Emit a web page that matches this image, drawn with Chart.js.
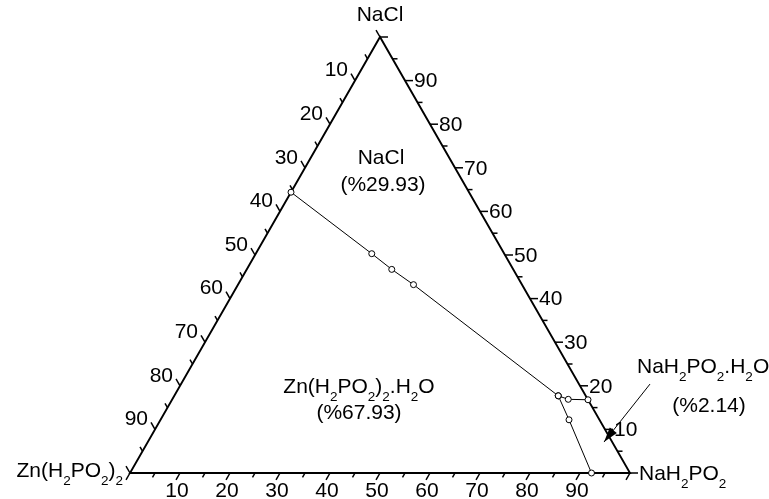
<!DOCTYPE html>
<html>
<head>
<meta charset="utf-8">
<script src="https://cdn.jsdelivr.net/npm/chart.js@4/dist/chart.umd.min.js"></script>
<style>
  html, body { margin: 0; padding: 0; background: #fff; }
  #wrap { width: 769px; height: 499px; }
</style>
</head>
<body>
<div id="wrap"><canvas id="chart" width="769" height="499"></canvas></div>
<script>
/* ── Data (mass %) ───────────────────────────────────── */
// each point: NaH2PO2 %, NaCl %  (Zn(H2PO2)2 is the rest)
const naclCurveNaH2PO2 = [0, 23.2, 29.0, 35.1, 76.8];
const naclCurveNaCl    = [64.4, 50.3, 46.7, 43.2, 17.7];

const hydrateCurveNaH2PO2 = [76.8, 79.2, 83.2];
const hydrateCurveNaCl    = [17.7, 16.9, 16.8];

const znCurveNaH2PO2 = [76.8, 81.7, 92.3];
const znCurveNaCl    = [17.7, 12.2, 0];

const tickValues = [10, 20, 30, 40, 50, 60, 70, 80, 90];
const tickLabels = ['10', '20', '30', '40', '50', '60', '70', '80', '90'];
const minorStep = 5;

// '_x' = subscript x
const vertexNames = ['Zn(H_2PO_2)_2', 'NaH_2PO_2', 'NaCl'];
const fieldNames  = ['NaCl', 'Zn(H_2PO_2)_2.H_2O', 'NaH_2PO_2.H_2O'];
const fieldShares = ['(%29.93)', '(%67.93)', '(%2.14)'];

/* ── Helpers ─────────────────────────────────────────── */
const FONT = '"Liberation Sans", Arial, sans-serif';
const MAIN_FONT = '21px ' + FONT;
const SUB_FONT = '13.5px ' + FONT;

// ternary -> cartesian (x: 0..100 along base, y: NaCl %)
function toXY(b, c) {
  return { x: b + c / 2, y: c };
}

function curve(bs, cs) {
  return bs.map((b, i) => toXY(b, cs[i]));
}

function richParts(str) {
  const parts = [];
  let buf = '';
  for (let i = 0; i < str.length; i++) {
    if (str[i] === '_') {
      if (buf) parts.push([buf, false]);
      buf = '';
      parts.push([str[i + 1], true]);
      i++;
    } else buf += str[i];
  }
  if (buf) parts.push([buf, false]);
  return parts;
}

function drawRich(ctx, str, x, y, align) {
  const parts = richParts(str);
  const widths = parts.map(([t, sub]) => {
    ctx.font = sub ? SUB_FONT : MAIN_FONT;
    return ctx.measureText(t).width;
  });
  const total = widths.reduce((a, w) => a + w, 0);
  let cx = align === 'center' ? x - total / 2 : align === 'right' ? x - total : x;
  ctx.textAlign = 'left';
  ctx.textBaseline = 'middle';
  parts.forEach(([t, sub], i) => {
    ctx.font = sub ? SUB_FONT : MAIN_FONT;
    ctx.fillText(t, cx, sub ? y + 10 : y);
    cx += widths[i];
  });
}

/* ── Triangle frame, ticks, labels ───────────────────── */
const ternaryFrame = {
  id: 'ternaryFrame',
  beforeDatasetsDraw(chart) {
    const { ctx, scales: { x, y } } = chart;
    const P = (b, c) => {
      const q = toXY(b, c);
      return [x.getPixelForValue(q.x), y.getPixelForValue(q.y)];
    };
    const unit = (a, b) => {
      const dx = b[0] - a[0], dy = b[1] - a[1], l = Math.hypot(dx, dy);
      return [dx / l, dy / l];
    };

    const zn = P(0, 0), na = P(100, 0), cl = P(0, 100);

    ctx.save();
    ctx.strokeStyle = '#000';
    ctx.fillStyle = '#000';

    // edges
    ctx.lineWidth = 1.9;
    ctx.lineJoin = 'miter';
    ctx.beginPath();
    ctx.moveTo(zn[0], zn[1]);
    ctx.lineTo(na[0], na[1]);
    ctx.lineTo(cl[0], cl[1]);
    ctx.closePath();
    ctx.stroke();

    const dBottom = unit(cl, zn);   // down-left
    const dLeft = unit(na, cl);     // up-left
    const dRight = unit(zn, na);    // right

    ctx.lineWidth = 1.5;
    for (let v = 0; v <= 100; v += minorStep) {
      const len = v % 10 === 0 ? 8 : 5;
      const pts = [
        [P(v, 0), dBottom],         // NaH2PO2 on base
        [P(0, 100 - v), dLeft],     // Zn(H2PO2)2 on left side
        [P(100 - v, v), dRight]     // NaCl on right side
      ];
      pts.forEach(([p, d]) => {
        ctx.beginPath();
        ctx.moveTo(p[0], p[1]);
        ctx.lineTo(p[0] + d[0] * len, p[1] + d[1] * len);
        ctx.stroke();
      });
    }

    // tick labels
    ctx.font = MAIN_FONT;
    tickValues.forEach((v, i) => {
      const txt = tickLabels[i];
      let p = P(v, 0);
      ctx.textAlign = 'center';
      ctx.textBaseline = 'middle';
      ctx.fillText(txt, p[0] + dBottom[0] * 8 + 1, p[1] + dBottom[1] * 8 + 11);

      p = P(0, 100 - v);
      ctx.textAlign = 'right';
      ctx.fillText(txt, p[0] + dLeft[0] * 8 - 3, p[1] + dLeft[1] * 8 - 3);

      p = P(100 - v, v);
      ctx.textAlign = 'left';
      ctx.fillText(txt, p[0] + dRight[0] * 8 + 1, p[1] + 1);
    });

    // vertex names
    drawRich(ctx, vertexNames[0], zn[0] - 7, zn[1] - 2, 'right');
    drawRich(ctx, vertexNames[1], na[0] + 9, na[1] + 1, 'left');
    drawRich(ctx, vertexNames[2], cl[0], cl[1] - 22, 'center');

    // crystallisation fields
    const at = (px, py) => [x.getPixelForValue(px), y.getPixelForValue(py)];
    let q = at(50.2, 72.2);
    drawRich(ctx, fieldNames[0], q[0], q[1], 'center');
    q = at(50.6, 66.0);
    drawRich(ctx, fieldShares[0], q[0], q[1], 'center');
    q = at(45.8, 19.6);
    drawRich(ctx, fieldNames[1], q[0], q[1], 'center');
    q = at(45.8, 13.8);
    drawRich(ctx, fieldShares[1], q[0], q[1], 'center');
    q = at(101.4, 24.3);
    drawRich(ctx, fieldNames[2], q[0], q[1], 'left');
    q = at(115.8, 15.4);
    drawRich(ctx, fieldShares[2], q[0], q[1], 'center');

    // arrow to the narrow hydrate field
    const tail = at(104, 20.4), tip = at(94.8, 7.1);
    const d = unit(tail, tip);
    ctx.lineWidth = 1;
    ctx.beginPath();
    ctx.moveTo(tail[0], tail[1]);
    ctx.lineTo(tip[0], tip[1]);
    ctx.stroke();
    const hl = 15, hw = 4.5;
    const base = [tip[0] - d[0] * hl, tip[1] - d[1] * hl];
    ctx.beginPath();
    ctx.moveTo(tip[0], tip[1]);
    ctx.lineTo(base[0] - d[1] * hw, base[1] + d[0] * hw);
    ctx.lineTo(base[0] + d[1] * hw, base[1] - d[0] * hw);
    ctx.closePath();
    ctx.fill();

    ctx.restore();
  }
};

/* ── Chart ───────────────────────────────────────────── */
const lineStyle = {
  showLine: true,
  borderColor: '#000',
  borderWidth: 1,
  pointRadius: 3,
  pointBorderWidth: 1,
  pointBorderColor: '#000',
  pointBackgroundColor: '#fff',
  clip: false
};

new Chart(document.getElementById('chart'), {
  type: 'scatter',
  data: {
    datasets: [
      { label: 'NaCl', data: curve(naclCurveNaH2PO2, naclCurveNaCl), ...lineStyle },
      { label: 'NaH2PO2.H2O', data: curve(hydrateCurveNaH2PO2, hydrateCurveNaCl), ...lineStyle },
      { label: 'Zn(H2PO2)2.H2O', data: curve(znCurveNaH2PO2, znCurveNaCl), ...lineStyle }
    ]
  },
  options: {
    responsive: false,
    animation: false,
    devicePixelRatio: 1,
    layout: { padding: { left: 130, right: 139, top: 37, bottom: 26 } },
    scales: {
      x: { type: 'linear', min: 0, max: 100, display: false },
      y: { type: 'linear', min: 0, max: 100, display: false }
    },
    plugins: {
      legend: { display: false },
      tooltip: { enabled: false }
    }
  },
  plugins: [ternaryFrame]
});
</script>
</body>
</html>
